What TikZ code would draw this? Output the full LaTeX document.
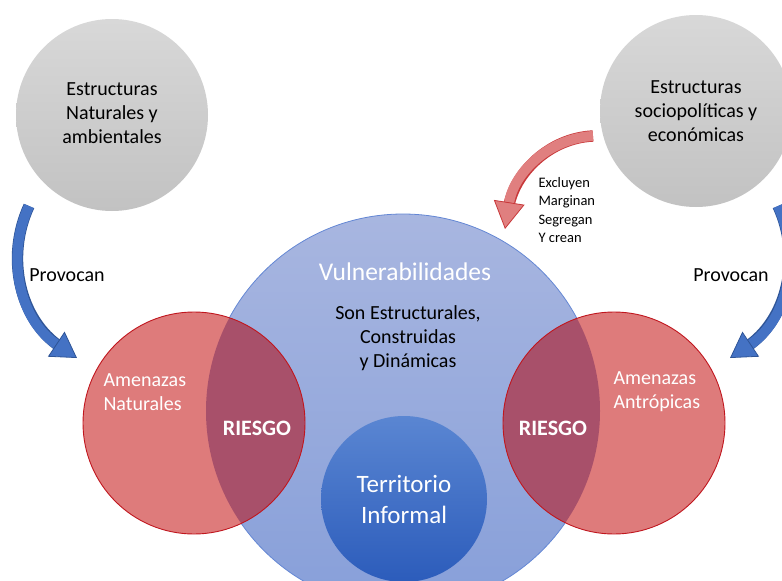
\documentclass[tikz,border=0pt]{standalone}
\usepackage{fontspec}
\setmainfont{Carlito}
\usetikzlibrary{arrows.meta}

\definecolor{graytop}{HTML}{D8D8D8}
\definecolor{graybot}{HTML}{C2C2C2}
\definecolor{vulntop}{HTML}{A8B6E0}
\definecolor{vulnbot}{HTML}{879FD9}
\definecolor{vulnline}{HTML}{6487D4}
\definecolor{amenfill}{HTML}{DE7B7B}
\definecolor{amenline}{HTML}{C0161E}
\definecolor{riesgofill}{HTML}{A8506A}
\definecolor{terrtop}{HTML}{5A86D2}
\definecolor{terrbot}{HTML}{2C5CBB}
\definecolor{azulflecha}{HTML}{4472C4}
\definecolor{azulborde}{HTML}{2F5597}
\definecolor{rojoflecha}{HTML}{E07F7F}
\definecolor{rojoborde}{HTML}{C8383A}

\tikzset{
  estructura/.style={circle, inner sep=0pt, minimum size=192pt,
    top color=graytop, bottom color=graybot, align=center,
    font=\fontsize{20}{24}\selectfont},
  vulnerable/.style={circle, inner sep=0pt, minimum size=394pt,
    top color=vulntop, bottom color=vulnbot, draw=vulnline, line width=0.8pt},
  amenaza/.style={circle, inner sep=0pt, minimum size=222pt, fill=amenfill},
  territorio/.style={circle, inner sep=0pt, minimum size=166pt,
    top color=terrtop, bottom color=terrbot, text=white, align=center,
    font=\fontsize{25}{31}\selectfont},
  texto/.style={align=center, font=\fontsize{20}{24}\selectfont},
  blanco/.style={text=white, align=left, font=\fontsize{20}{24}\selectfont},
  riesgo/.style={text=white, font=\bfseries\fontsize{22}{26}\selectfont},
  flechaazul/.style={line width=10pt, draw=azulflecha,
    preaction={draw=azulborde, line width=11.4pt, shorten >=20pt, arrows=-},
    -{Triangle[width=30pt, length=25pt, line width=0.8pt, color=azulborde, fill=azulflecha]}},
  flecharoja/.style={line width=10pt, draw=rojoflecha,
    preaction={draw=rojoborde, line width=11.4pt, shorten >=20pt, arrows=-},
    -{Triangle[width=31pt, length=27pt, line width=0.8pt, color=rojoborde, fill=rojoflecha]}}
}

\begin{document}
\begin{tikzpicture}[x=1pt,y=-1pt]
\useasboundingbox (0,0) rectangle (782,581);
\clip (0,0) rectangle (782,581);

% circulos de arriba
\node[estructura] (natural) at (112,115) {};
\node[estructura] (socio) at (696,111) {};
\node[texto] (naturalTxt) at (112,113) {Estructuras\\Naturales y\\ambientales};
\node[texto] (socioTxt) at (696,111) {Estructuras\\sociopolíticas y\\económicas};

% vulnerabilidades y amenazas
\node[vulnerable] (vuln) at (403,411) {};
\node[amenaza] (amenN) at (194,423) {};
\node[amenaza] (amenA) at (614,423) {};
\begin{scope}
  \clip (vuln.center) circle[radius=197pt];
  \fill[riesgofill] (amenN.center) circle[radius=111pt];
  \fill[riesgofill] (amenA.center) circle[radius=111pt];
\end{scope}
\draw[amenline, line width=0.9pt] (amenN.center) circle[radius=111pt];
\draw[amenline, line width=0.9pt] (amenA.center) circle[radius=111pt];
\node[territorio] (terr) at (404,499) {Territorio\\Informal};

% textos
\node[text=white, font=\fontsize{25.5}{30}\selectfont] (vulnTit) at (405,272) {Vulnerabilidades};
\node[texto] (vulnTxt) at (408,338) {Son Estructurales,\\Construidas\\y Dinámicas};
\node[blanco, anchor=west] (amenNTxt) at (100,392) {Amenazas\\Naturales};
\node[blanco, anchor=west] (amenATxt) at (610,392) {Amenazas\\Antrópicas};
\node[riesgo] (riesgoN) at (257,428) {RIESGO};
\node[riesgo] (riesgoA) at (553,428) {RIESGO};
\node[texto] (provN) at (67,275) {Provocan};
\node[texto] (provA) at (731,275) {Provocan};
\node[align=left, anchor=west, font=\fontsize{14.5}{18.3}\selectfont] (excl) at (535,210)
  {Excluyen\\Marginan\\Segregan\\Y crean};

% flechas
\coordinate (nIni) at (29,206);
\coordinate (nFin) at (77,358);
\coordinate (aIni) at (778,206);
\coordinate (aFin) at (730,358);
\coordinate (rIni) at (593,136);
\coordinate (rFin) at (505,229);
\draw[flechaazul] (nIni) .. controls (5,258) and (20,320) .. (nFin);
\draw[flechaazul] (aIni) .. controls (802,258) and (787,320) .. (aFin);
\draw[flecharoja] (rIni) .. controls (550,138) and (514,172) .. (rFin);
\end{tikzpicture}
\end{document}
